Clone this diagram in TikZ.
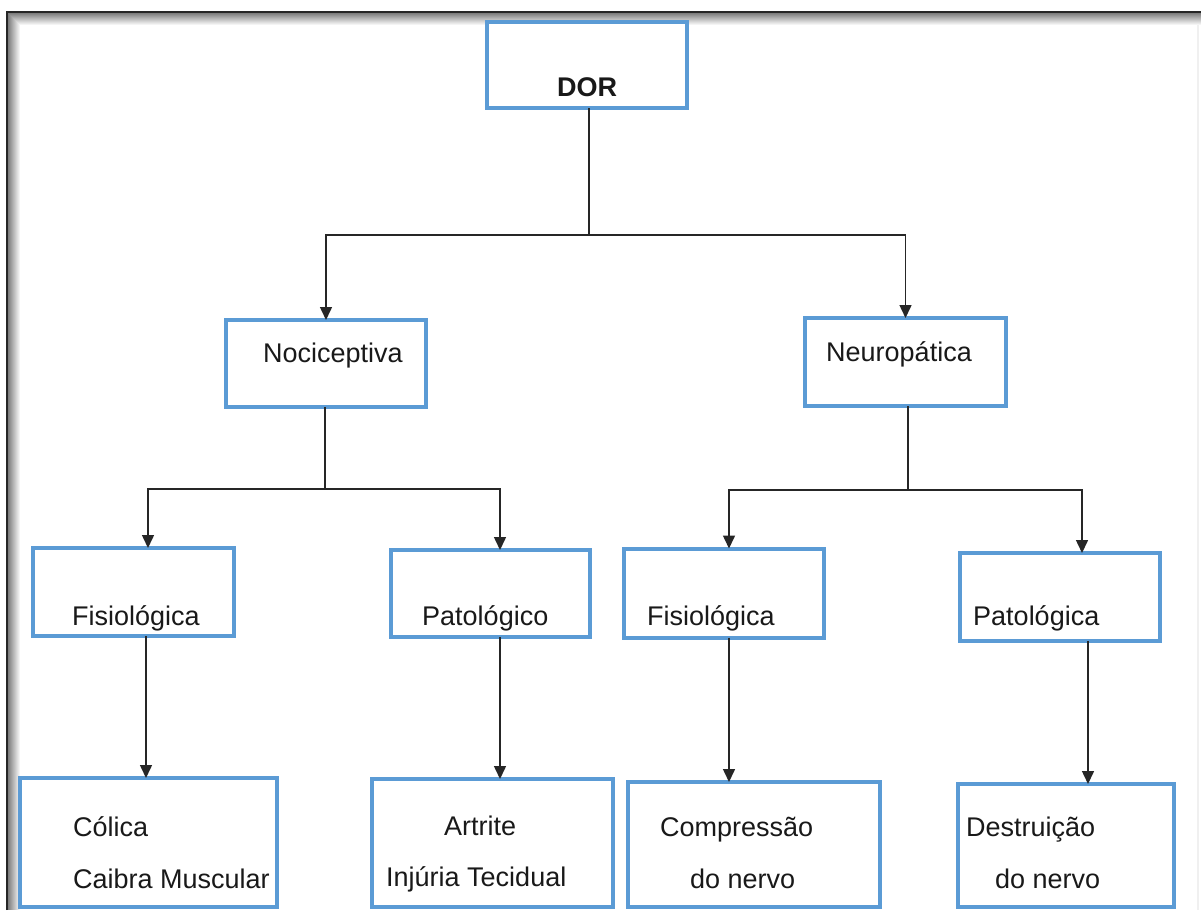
\documentclass[tikz,border=0pt]{standalone}
\usepackage{fontspec}
\setmainfont{Liberation Sans}
\usetikzlibrary{arrows.meta}
\definecolor{boxblue}{RGB}{91,155,213}
\begin{document}
\begin{tikzpicture}[x=1pt,y=-1pt,
  box/.style={draw=boxblue,line width=4pt,fill=white,inner sep=0pt,outer sep=0pt},
  lbl/.style={anchor=base west,inner sep=0pt,font=\fontsize{27}{32}\selectfont,text=black!90},
  conn/.style={draw=black!85,line width=1.5pt},
  arr/.style={conn,-{Triangle[length=13pt,width=12pt]}}]
\useasboundingbox (0,0) rectangle (1201,910);
\fill[white] (0,0) rectangle (1201,910);
% frame with soft inner shadow
\foreach \i in {1,...,12}{
  \pgfmathsetmacro{\g}{55*(1-\i/13)}
  \draw[black!\g,line width=1pt] (7+\i,12+\i) -- (1201,12+\i);
  \draw[black!\g,line width=1pt] (7+\i,12+\i) -- (7+\i,910);
}
\draw[black!85,line width=2pt] (7,910) -- (7,12) -- (1201,12);
\draw[black!6,line width=2pt] (1198,25) -- (1198,910);

% boxes
\node[box,minimum width=200pt,minimum height=86pt] (dor) at (587,65) {};
\node[box,minimum width=200pt,minimum height=87pt] (noc) at (326,363.5) {};
\node[box,minimum width=201pt,minimum height=88pt] (neu) at (905.5,362) {};
\node[box,minimum width=201pt,minimum height=88pt] (fisL) at (133.5,592) {};
\node[box,minimum width=199pt,minimum height=87pt] (pato) at (490,593.5) {};
\node[box,minimum width=200pt,minimum height=89pt] (fisR) at (723.5,593) {};
\node[box,minimum width=200pt,minimum height=88pt] (patR) at (1059.5,597) {};
\node[box,minimum width=257pt,minimum height=129pt] (colica) at (148.5,842.5) {};
\node[box,minimum width=241pt,minimum height=128pt] (artrite) at (492.5,843) {};
\node[box,minimum width=252pt,minimum height=125pt] (compr) at (754,844.5) {};
\node[box,minimum width=216pt,minimum height=123pt] (destr) at (1066,845.5) {};

% labels
\node[lbl,font=\fontsize{27}{32}\selectfont\bfseries] (tdor) at (557,96) {DOR};
\node[lbl] (tnoc) at (263,362) {Nociceptiva};
\node[lbl] (tneu) at (826,361) {Neuropática};
\node[lbl] (tfisL) at (72,625) {Fisiológica};
\node[lbl] (tpato) at (422,625) {Patológico};
\node[lbl] (tfisR) at (647,625) {Fisiológica};
\node[lbl] (tpatR) at (973,625) {Patológica};
\node[lbl] (tcol1) at (73,836) {Cólica};
\node[lbl] (tcol2) at (73,888) {Caibra Muscular};
\node[lbl] (tart1) at (444,835) {Artrite};
\node[lbl] (tart2) at (386,886) {Injúria Tecidual};
\node[lbl] (tcom1) at (660,836) {Compressão};
\node[lbl] (tcom2) at (690,888) {do nervo};
\node[lbl] (tdes1) at (966,836) {Destruição};
\node[lbl] (tdes2) at (995,888) {do nervo};

% connectors
\coordinate (j0) at (589,235);
\coordinate (j1) at (325,489);
\coordinate (j2) at (908,490);
\draw[conn] (dor.south -| j0) -- (j0);
\draw[arr] (j0) -| (noc.north);
\draw[arr] (j0) -| (neu.north);
\draw[conn] (noc.south -| j1) -- (j1);
\draw[arr] (j1) -| (fisL.north -| 148,0);
\draw[arr] (j1) -| (pato.north -| 500,0);
\draw[conn] (neu.south -| j2) -- (j2);
\draw[arr] (j2) -| (fisR.north -| 729,0);
\draw[arr] (j2) -| (patR.north -| 1082,0);
\draw[arr] (fisL.south -| 146,0) -- (colica.north -| 146,0);
\draw[arr] (pato.south -| 500,0) -- (artrite.north -| 500,0);
\draw[arr] (fisR.south -| 729,0) -- (compr.north -| 729,0);
\draw[arr] (patR.south -| 1088,0) -- (destr.north -| 1088,0);
\end{tikzpicture}
\end{document}
